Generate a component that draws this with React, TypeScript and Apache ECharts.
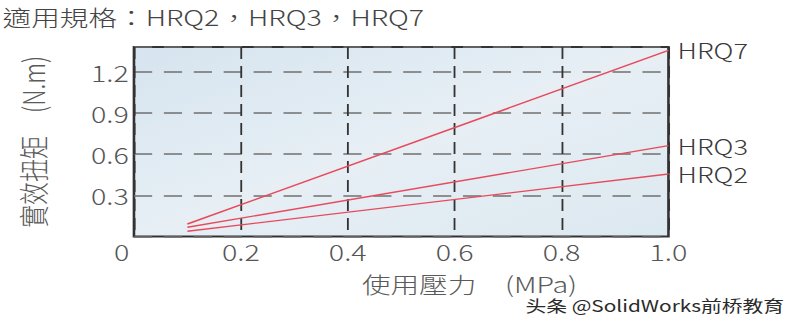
import React, { useEffect, useRef } from "react";
import * as echarts from "echarts";

// ---- data ----
const pressure = [0.1, 1.0]; // MPa
const hrq2 = [0.038, 0.455];
const hrq3 = [0.067, 0.662];
const hrq7 = [0.091, 1.355];
const seriesNames = ["HRQ2", "HRQ3", "HRQ7"];
const yTickLabels = [0.3, 0.6, 0.9, 1.2];
const xTickLabels = [0, 0.2, 0.4, 0.6, 0.8, 1.0];
const titleText = "適用規格：HRQ2，HRQ3，HRQ7";
const xName = "使用壓力　(MPa)";
const yName = "實效扭矩　(N.m)";
const watermark = "头条 @SolidWorks前桥教育";

const CW = 609; // chart width before horizontal stretch
const S = 792 / CW; // reference text is horizontally stretched
const FONT = "'Noto Sans CJK TC', 'Noto Sans', sans-serif";
const RED = "#e84a5c";

export default function App() {
  const ref = useRef<HTMLDivElement>(null);
  useEffect(() => {
    if (!ref.current) return;
    const chart = echarts.init(ref.current, undefined, { renderer: "svg" });
    const allSeries = [hrq2, hrq3, hrq7];
    const last = pressure.length - 1;
    chart.setOption({
      animation: false,
      textStyle: { fontFamily: FONT },
      title: {
        text: titleText,
        left: 2,
        top: 5,
        padding: 0,
        textStyle: { fontSize: 22, fontWeight: 300, color: "#444", fontFamily: FONT },
      },
      grid: {
        left: 103,
        right: 95,
        top: 47,
        bottom: 83.5,
        show: true,
        borderColor: "#333",
        borderWidth: 2,
        backgroundColor: new echarts.graphic.LinearGradient(0, 0, 1, 1, [
          { offset: 0, color: "#d6e4ef" },
          { offset: 0.5, color: "#e7eff5" },
          { offset: 1, color: "#dce8f0" },
        ]),
      },
      xAxis: {
        type: "value",
        min: 0,
        max: 1,
        interval: 0.2,
        name: xName,
        nameLocation: "middle",
        nameGap: 36,
        nameTextStyle: { fontSize: 22, fontWeight: 300, color: "#5a5a5a", fontFamily: FONT, padding: [0, 0, 0, 105] },
        axisLine: { show: false },
        axisTick: { show: false },
        axisLabel: {
          fontSize: 22,
          fontWeight: 300,
          color: "#555",
          margin: 4,
          fontFamily: FONT,
          formatter: (v: number) => {
            const m = xTickLabels.find((t) => Math.abs(t - v) < 1e-6);
            if (m === undefined) return "";
            return m === 0 ? "{z|0}" : m.toFixed(1);
          },
          rich: { z: { fontSize: 22, fontWeight: 300, color: "#555", fontFamily: FONT, padding: [0, 19, 0, 0] } },
        },
        splitLine: { show: true, lineStyle: { color: "#333", width: 1.4, type: [12, 7] } },
      },
      yAxis: {
        type: "value",
        min: 0,
        max: 1.38,
        interval: 0.3,
        name: yName,
        nameLocation: "middle",
        nameRotate: 90,
        nameGap: 67,
        nameTextStyle: { fontSize: 23, fontWeight: 300, color: "#5a5a5a", fontFamily: FONT },
        axisLine: { show: false },
        axisTick: { show: false },
        axisLabel: {
          fontSize: 22,
          fontWeight: 300,
          color: "#555",
          margin: 4,
          fontFamily: FONT,
          formatter: (v: number) => {
            const m = yTickLabels.find((t) => Math.abs(t - v) < 1e-6);
            return m === undefined ? "" : m.toFixed(1);
          },
        },
        splitLine: { show: true, lineStyle: { color: "#707070", width: 1.5, type: [14, 9] } },
      },
      graphic: [
        {
          type: "text",
          left: 404,
          top: 297,
          style: { text: watermark, fontSize: 16, fill: "#2a2a2a", fontFamily: FONT },
        },
      ],
      series: allSeries.map((ys, si) => ({
        type: "line",
        name: seriesNames[si],
        symbol: "circle",
        symbolSize: 0,
        showSymbol: true,
        clip: false,
        lineStyle: { color: RED, width: 1.4 },
        itemStyle: { color: RED },
        data: pressure.map((x, i) => ({
          value: [x, ys[i]],
          label:
            i === last
              ? {
                  show: true,
                  position: "right",
                  distance: 7,
                  formatter: seriesNames[si],
                  fontSize: 21,
                  fontWeight: 300,
                  color: "#3a3a3a",
                  fontFamily: FONT,
                }
              : { show: false },
        })),
      })),
    });
    return () => chart.dispose();
  }, []);
  return (
    <div
      ref={ref}
      style={{
        position: "absolute",
        left: 0,
        top: 0,
        width: CW,
        height: 320,
        transform: `scaleX(${S})`,
        transformOrigin: "0 0",
        background: "#fff",
      }}
    />
  );
}
